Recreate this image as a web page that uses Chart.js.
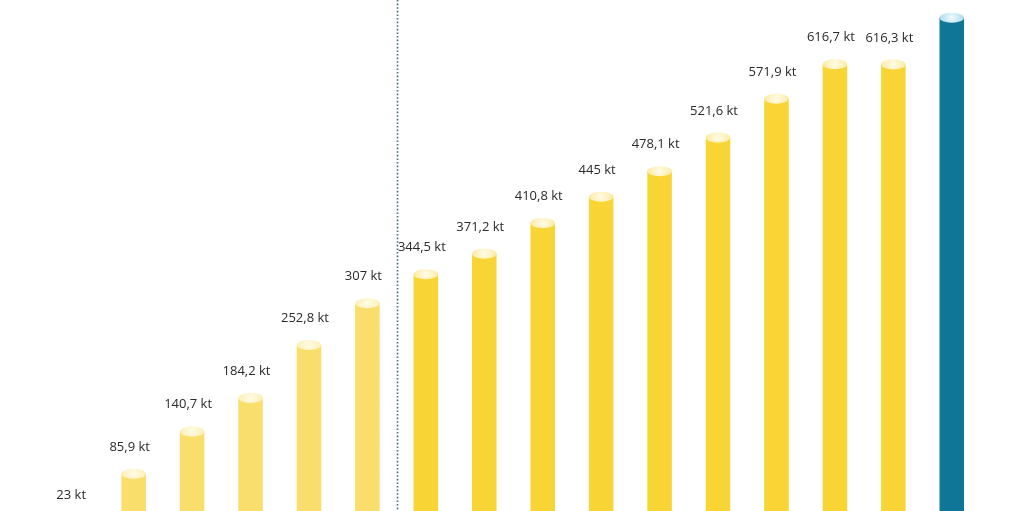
<!DOCTYPE html>
<html>
<head>
<meta charset="utf-8">
<script src="https://cdn.jsdelivr.net/npm/chart.js@4/dist/chart.umd.min.js"></script>
<style>
  html, body { margin: 0; padding: 0; background: #ffffff; overflow: hidden; }
  #wrap { position: absolute; left: 0; top: 0; width: 1024px; height: 540px; }
</style>
</head>
<body>
<div id="wrap"><canvas id="c"></canvas></div>
<script>
// ---- data ----
const categories = ["1","2","3","4","5","6","7","8","9","10","11","12","13","14","15","16"];
const values = [23, 85.9, 140.7, 184.2, 252.8, 307, 344.5, 371.2, 410.8, 445, 478.1, 521.6, 571.9, 616.7, 616.3, 677];
const valueLabels = ["23 kt","85,9 kt","140,7 kt","184,2 kt","252,8 kt","307 kt","344,5 kt","371,2 kt","410,8 kt","445 kt","478,1 kt","521,6 kt","571,9 kt","616,7 kt","616,3 kt","677 kt"];
const dividerAfterIndex = 5;

// ---- styles ----
const barColors = values.map((v, i) => i <= 5 ? '#FADE6C' : (i === values.length - 1 ? '#0F7697' : '#F9D435'));
const capInner = values.map((v, i) => i === values.length - 1 ? '#EAF7FB' : '#FFFAE2');
const capOuter = values.map((v, i) => i === values.length - 1 ? '#ABDCEB' : (i <= 5 ? '#FDEFB4' : '#FCEBA0'));
const labelColors = values.map((v, i) => i === values.length - 1 ? '#E4EBEE' : '#2A2A2A');

const capsPlugin = {
  id: 'caps',
  afterDatasetsDraw(chart) {
    const ctx = chart.ctx;
    const meta = chart.getDatasetMeta(0);
    const xs = chart.scales.x;
    // dotted divider
    const dx = (xs.getPixelForValue(dividerAfterIndex) + xs.getPixelForValue(dividerAfterIndex + 1)) / 2;
    ctx.save();
    ctx.strokeStyle = '#3F6C7E';
    ctx.lineWidth = 1.6;
    ctx.setLineDash([1.6, 2]);
    ctx.beginPath();
    ctx.moveTo(Math.round(dx) + 0.5, 0);
    ctx.lineTo(Math.round(dx) + 0.5, chart.height);
    ctx.stroke();
    ctx.restore();

    meta.data.forEach((bar, i) => {
      const rx = bar.width / 2;
      const ry = 5;
      ctx.save();
      const g = ctx.createRadialGradient(bar.x, bar.y, 1, bar.x, bar.y, rx);
      g.addColorStop(0, capInner[i]);
      g.addColorStop(1, capOuter[i]);
      ctx.fillStyle = g;
      ctx.beginPath();
      ctx.ellipse(bar.x, bar.y, rx, ry, 0, 0, Math.PI * 2);
      ctx.fill();
      ctx.restore();

      ctx.save();
      ctx.font = '13px "Open Sans"';
      ctx.fillStyle = labelColors[i];
      ctx.textAlign = 'center';
      ctx.textBaseline = 'alphabetic';
      ctx.fillText(valueLabels[i], bar.x - 4, bar.y - 23);
      ctx.restore();
    });
  }
};

new Chart(document.getElementById('c'), {
  type: 'bar',
  data: {
    labels: categories,
    datasets: [{
      data: values,
      backgroundColor: barColors,
      borderWidth: 0,
      categoryPercentage: 1,
      barPercentage: 0.42
    }]
  },
  options: {
    responsive: true,
    maintainAspectRatio: false,
    animation: false,
    layout: { padding: { left: 46, right: 43, top: 0, bottom: 0 } },
    plugins: { legend: { display: false }, tooltip: { enabled: false } },
    scales: {
      x: { display: false },
      y: { display: false, min: 0, max: 700 }
    }
  },
  plugins: [capsPlugin]
});
</script>
</body>
</html>
